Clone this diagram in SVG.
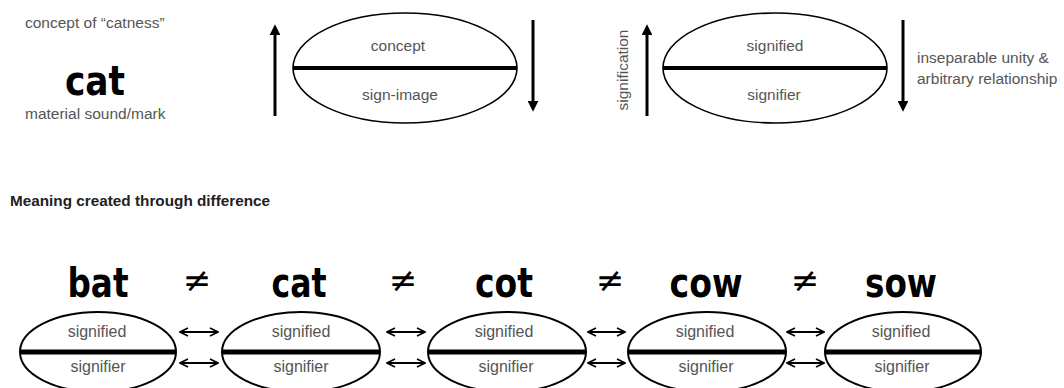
<svg xmlns="http://www.w3.org/2000/svg" width="1064" height="388" viewBox="0 0 1064 388">
<defs>
<style>
.lbl{font-family:"Liberation Sans",Arial,sans-serif;font-size:15.5px;fill:#555;}
.sm{font-size:16px;}
.mid{text-anchor:middle;}
.word{font-family:"DejaVu Sans",sans-serif;font-weight:bold;font-stretch:condensed;fill:#000;text-anchor:middle;}
.ne{font-family:"DejaVu Sans",sans-serif;font-size:34px;fill:#000;text-anchor:middle;}
.ell{fill:none;stroke:#000;stroke-width:1.6;}
.ell2{fill:none;stroke:#000;stroke-width:2;}
.bar{stroke:#000;stroke-width:4;}
.bar2{stroke:#000;stroke-width:5;}
.arr{stroke:#000;stroke-width:3;fill:none;marker-end:url(#head);}
.dbl{stroke:#000;stroke-width:2;fill:none;marker-start:url(#vs);marker-end:url(#ve);}
</style>
<marker id="head" viewBox="0 0 10 10" refX="2" refY="5" markerWidth="3.6" markerHeight="3.6" orient="auto" markerUnits="strokeWidth">
<path d="M0,0 L10,5 L0,10 Z" fill="#000"/>
</marker>
<marker id="ve" viewBox="0 0 10 10" refX="9" refY="5" markerWidth="5" markerHeight="5" orient="auto" markerUnits="strokeWidth">
<path d="M1,1 L9,5 L1,9" fill="none" stroke="#000" stroke-width="1.6"/>
</marker>
<marker id="vs" viewBox="0 0 10 10" refX="1" refY="5" markerWidth="5" markerHeight="5" orient="auto" markerUnits="strokeWidth">
<path d="M9,1 L1,5 L9,9" fill="none" stroke="#000" stroke-width="1.6"/>
</marker>
</defs>
<rect width="1064" height="388" fill="#fff"/>

<g id="catness">
<text class="lbl" x="25" y="28" font-size="14.5">concept of “catness”</text>
<text class="word" x="95" y="95" font-size="40" textLength="60" lengthAdjust="spacingAndGlyphs">cat</text>
<text class="lbl" x="25" y="119" font-size="14.5">material sound/mark</text>
</g>

<g id="sign1">
<ellipse class="ell" cx="405" cy="68" rx="112" ry="55"/>
<line class="bar" x1="293" y1="68" x2="517" y2="68"/>
<text class="lbl mid" x="398" y="51">concept</text>
<text class="lbl mid" x="400" y="100">sign-image</text>
</g>

<g id="sign2">
<ellipse class="ell" cx="775" cy="68" rx="112" ry="55"/>
<line class="bar" x1="663" y1="68" x2="887" y2="68"/>
<text class="lbl mid" x="775" y="51">signified</text>
<text class="lbl mid" x="774" y="100">signifier</text>
<text class="lbl mid" transform="translate(628,70) rotate(-90)">signification</text>
<text class="lbl" x="917" y="63">inseparable unity &amp;</text>
<text class="lbl" x="917" y="84">arbitrary relationship</text>
</g>

<text id="heading" x="10" y="206" font-family="Liberation Sans,Arial,sans-serif" font-weight="bold" font-size="15.3" fill="#222">Meaning created through difference</text>

<g id="w-bat">
<text class="word" x="98" y="297" font-size="40" textLength="61" lengthAdjust="spacingAndGlyphs">bat</text>
<ellipse class="ell2" cx="98" cy="352" rx="78" ry="40"/>
<line class="bar2" x1="20" y1="352" x2="176" y2="352"/>
<text class="lbl sm mid" x="97" y="337">signified</text>
<text class="lbl sm mid" x="98" y="372">signifier</text>
</g>
<g id="w-cat">
<text class="word" x="299" y="297" font-size="40" textLength="55" lengthAdjust="spacingAndGlyphs">cat</text>
<ellipse class="ell2" cx="301" cy="352" rx="79" ry="40"/>
<line class="bar2" x1="222" y1="352" x2="380" y2="352"/>
<text class="lbl sm mid" x="301" y="337">signified</text>
<text class="lbl sm mid" x="301" y="372">signifier</text>
</g>
<g id="w-cot">
<text class="word" x="504" y="297" font-size="40" textLength="58" lengthAdjust="spacingAndGlyphs">cot</text>
<ellipse class="ell2" cx="507" cy="352" rx="79" ry="40"/>
<line class="bar2" x1="428" y1="352" x2="586" y2="352"/>
<text class="lbl sm mid" x="504" y="337">signified</text>
<text class="lbl sm mid" x="506" y="372">signifier</text>
</g>
<g id="w-cow">
<text class="word" x="706" y="297" font-size="40" textLength="73" lengthAdjust="spacingAndGlyphs">cow</text>
<ellipse class="ell2" cx="707" cy="352" rx="79" ry="40"/>
<line class="bar2" x1="628" y1="352" x2="786" y2="352"/>
<text class="lbl sm mid" x="705" y="337">signified</text>
<text class="lbl sm mid" x="706" y="372">signifier</text>
</g>
<g id="w-sow">
<text class="word" x="901" y="297" font-size="40" textLength="72" lengthAdjust="spacingAndGlyphs">sow</text>
<ellipse class="ell2" cx="903" cy="352" rx="78" ry="40"/>
<line class="bar2" x1="825" y1="352" x2="981" y2="352"/>
<text class="lbl sm mid" x="901" y="337">signified</text>
<text class="lbl sm mid" x="902" y="372">signifier</text>
</g>

<g id="noteq">
<text class="ne" x="197" y="292">≠</text>
<text class="ne" x="403" y="292">≠</text>
<text class="ne" x="610" y="292">≠</text>
<text class="ne" x="805" y="292">≠</text>
</g>

<g id="connectors">
<line class="arr" x1="275" y1="116" x2="275" y2="33"/>
<line class="arr" x1="533" y1="20" x2="533" y2="103"/>
<line class="arr" x1="647" y1="116" x2="647" y2="33"/>
<line class="arr" x1="903" y1="20" x2="903" y2="103"/>
<line class="dbl" x1="180" y1="332" x2="218" y2="332"/>
<line class="dbl" x1="180" y1="363" x2="218" y2="363"/>
<line class="dbl" x1="387" y1="332" x2="425" y2="332"/>
<line class="dbl" x1="387" y1="363" x2="425" y2="363"/>
<line class="dbl" x1="588" y1="332" x2="625" y2="332"/>
<line class="dbl" x1="588" y1="363" x2="625" y2="363"/>
<line class="dbl" x1="787" y1="332" x2="824" y2="332"/>
<line class="dbl" x1="787" y1="363" x2="824" y2="363"/>
</g>
</svg>
